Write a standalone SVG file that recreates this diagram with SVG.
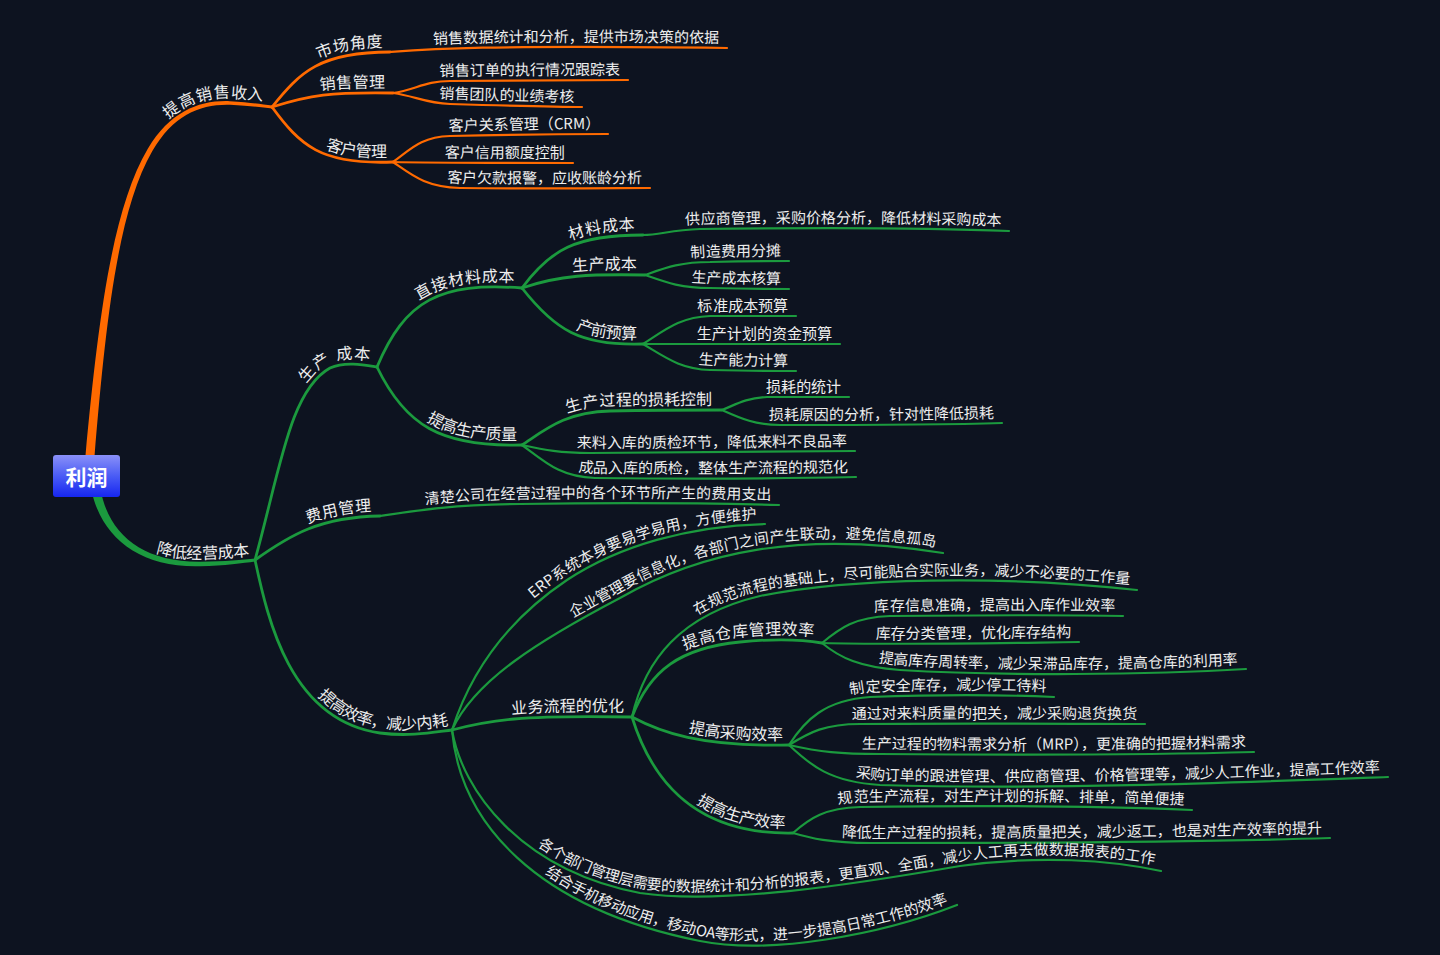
<svg xmlns="http://www.w3.org/2000/svg" xmlns:xlink="http://www.w3.org/1999/xlink" width="1440" height="955" viewBox="0 0 1440 955">
<style>
.o{fill:none;stroke:#ff6a00;stroke-linecap:round}
.g{fill:none;stroke:#1b9a3e;stroke-linecap:round}
.w2{stroke-width:2.8}
.w1{stroke-width:2.2}
text{font-family:"Noto Sans CJK SC","Noto Sans",sans-serif;fill:#eeeeee}
.n{font-size:16px}
.l{font-size:15px}
</style>
<defs>
<linearGradient id="rootg" x1="0" y1="0" x2="0" y2="1">
<stop offset="0" stop-color="#8a90f8"/><stop offset="0.5" stop-color="#4a5cf5"/><stop offset="1" stop-color="#1626f0"/>
</linearGradient>
<path id="pA" d="M 90 456 C 102 320, 115 210, 150 150 C 172 113, 200 102, 230 103 C 250 104, 262 106, 272 107"/>
<path id="pB" d="M 96 490 C 105 535, 140 565, 200 564 C 225 563.5, 243 561.5, 255 560"/>
<path id="o1" d="M 272 107 C 300 72, 320 52, 390 52"/>
<path id="o2" d="M 272 107 C 310 95, 330 92, 393 93"/>
<path id="o3" d="M 272 107 C 300 145, 320 165, 393 162"/>
<path id="o11" d="M 390 52 C 430 49, 480 45, 727 48"/>
<path id="o21" d="M 393 93 C 415 90, 425 81, 450 81 C 530 80, 600 80, 628 80"/>
<path id="o22" d="M 393 93 C 415 96, 425 103, 450 104 C 520 106, 560 107, 582 107"/>
<path id="o31" d="M 393 162 C 410 150, 420 137, 450 136 C 530 134, 580 134, 608 134"/>
<path id="o32" d="M 393 162 C 430 163, 500 163, 573 163"/>
<path id="o33" d="M 393 162 C 412 175, 425 187, 460 188 C 560 189, 620 188, 650 188"/>
<path id="g1" d="M 255 560 C 280 470, 290 390, 330 368 C 345 361, 365 365, 377 367"/>
<path id="g2" d="M 255 560 C 290 535, 320 517, 380 516"/>
<path id="g3" d="M 255 560 C 268 620, 290 720, 380 733 C 410 737, 435 732, 452 730"/>
<path id="g11" d="M 377 367 C 405 300, 440 282, 522 288"/>
<path id="g12" d="M 377 367 C 405 425, 440 447, 522 445"/>
<path id="g111" d="M 522 288 C 550 250, 575 235, 643 235"/>
<path id="g1111" d="M 643 235 C 660 235, 670 230, 700 229 C 850 227, 960 229, 1009 231"/>
<path id="g112" d="M 522 288 C 560 275, 590 274, 645 275"/>
<path id="g1121" d="M 645 275 C 665 268, 680 262, 710 262 C 750 261, 775 261, 789 261"/>
<path id="g1122" d="M 645 275 C 665 282, 680 288, 710 288 C 750 289, 775 289, 789 289"/>
<path id="g113" d="M 522 288 C 555 330, 580 346, 643 344"/>
<path id="g1131" d="M 643 344 C 665 330, 680 317, 710 316 C 760 316, 780 316, 796 316"/>
<path id="g1132" d="M 643 344 C 700 344, 780 344, 840 344"/>
<path id="g1133" d="M 643 344 C 665 357, 680 369, 710 370 C 760 371, 780 371, 796 371"/>
<path id="g121" d="M 522 445 C 545 430, 565 412, 610 411 C 660 410, 700 410, 722 410"/>
<path id="g1211" d="M 722 410 C 735 405, 745 398, 767 397 C 800 397, 830 397, 849 397"/>
<path id="g1212" d="M 722 410 C 740 418, 755 425, 780 425 C 900 425, 970 424, 1002 423"/>
<path id="g122" d="M 522 445 C 545 450, 560 453, 590 453 C 700 453, 800 452, 855 451"/>
<path id="g123" d="M 522 445 C 545 462, 560 477, 595 478 C 700 479, 810 478, 856 477"/>
<path id="g21" d="M 380 516 C 420 510, 450 505, 520 504 C 650 502, 740 504, 779 505"/>
<path id="g31" d="M 452 730 C 468 680, 500 625, 567 580 C 620 545, 690 526, 765 524"/>
<path id="g32" d="M 452 730 C 475 680, 540 640, 620 598 C 700 552, 800 530, 943 553"/>
<path id="g33" d="M 452 730 C 490 720, 520 715, 632 717"/>
<path id="g34" d="M 452 730 C 462 790, 520 870, 640 893 C 720 905, 850 885, 960 866 C 1040 855, 1110 860, 1161 871"/>
<path id="g35" d="M 452 730 C 460 822, 535 908, 700 941 C 770 955, 880 935, 957 905"/>
<path id="g331" d="M 632 717 C 645 660, 680 615, 760 596 C 850 578, 1000 575, 1137 590"/>
<path id="g332" d="M 632 717 C 650 670, 680 648, 740 642 C 780 638, 805 640, 822 643"/>
<path id="g3321" d="M 822 643 C 840 628, 855 617, 890 616 C 1000 615, 1080 615, 1123 616"/>
<path id="g3322" d="M 822 643 C 900 645, 1000 643, 1079 642"/>
<path id="g3323" d="M 822 643 C 840 658, 860 667, 900 670 C 1000 676, 1150 675, 1246 669"/>
<path id="g333" d="M 632 717 C 660 732, 700 747, 789 745"/>
<path id="g3331" d="M 789 745 C 805 720, 825 700, 870 697 C 950 694, 1010 695, 1054 697"/>
<path id="g3332" d="M 789 745 C 810 732, 825 724, 860 724 C 980 723, 1100 724, 1145 724"/>
<path id="g3333" d="M 789 745 C 820 752, 840 754, 880 754 C 1000 755, 1150 755, 1254 752"/>
<path id="g3334" d="M 789 745 C 810 765, 830 782, 880 785 C 1050 790, 1250 782, 1388 777"/>
<path id="g334" d="M 632 717 C 650 775, 690 835, 793 833"/>
<path id="g3341" d="M 793 833 C 810 818, 825 808, 860 807 C 1000 805, 1120 807, 1192 810"/>
<path id="g3342" d="M 793 833 C 810 838, 830 843, 870 843 C 1000 843, 1200 842, 1330 838"/>
</defs>
<rect width="1440" height="955" fill="#0d1320"/>
<g id="connectors">
<path fill="#ff6a00" d="M 85.5 470 L 85.5 455.6 C 98.2 319.5, 112.1 209.2, 147.8 148.7 C 170.4 111.3, 199.7 100, 230 101.2 C 250 102.3, 262 104.4, 272 105.5 L 272 108.5 C 262 107.6, 250 105.7, 230 104.8 C 200.3 104, 173.6 114.7, 152.2 151.3 C 117.9 210.8, 105.8 320.5, 94.5 456.4 L 94.5 470 Z"/>
<path fill="#1b9a3e" d="M 91.6 480 L 91.6 490.9 C 101.6 537, 139.1 567.9, 200 566.3 C 225 565.5, 243 563.2, 255 561.5 L 255 558.5 C 243 559.8, 225 561.5, 200 561.7 C 140.9 562.1, 108.4 533, 100.4 489.1 L 100.4 480 Z"/>
<use href="#o1" class="o w2"/><use href="#o2" class="o w2"/><use href="#o3" class="o w2"/>
<use href="#o11" class="o w1"/><use href="#o21" class="o w1"/><use href="#o22" class="o w1"/>
<use href="#o31" class="o w1"/><use href="#o32" class="o w1"/><use href="#o33" class="o w1"/>
<use href="#g1" class="g w2"/><use href="#g2" class="g w2"/><use href="#g3" class="g w2"/>
<use href="#g11" class="g w2"/><use href="#g12" class="g w2"/>
<use href="#g111" class="g w2"/><use href="#g112" class="g w2"/><use href="#g113" class="g w2"/>
<use href="#g1111" class="g w1"/><use href="#g1121" class="g w1"/><use href="#g1122" class="g w1"/>
<use href="#g1131" class="g w1"/><use href="#g1132" class="g w1"/><use href="#g1133" class="g w1"/>
<use href="#g121" class="g w2"/><use href="#g1211" class="g w1"/><use href="#g1212" class="g w1"/>
<use href="#g122" class="g w1"/><use href="#g123" class="g w1"/><use href="#g21" class="g w1"/>
<use href="#g31" class="g w1"/><use href="#g32" class="g w1"/><use href="#g33" class="g w2"/>
<use href="#g34" class="g w1"/><use href="#g35" class="g w1"/>
<use href="#g331" class="g w1"/><use href="#g332" class="g w2"/>
<use href="#g3321" class="g w1"/><use href="#g3322" class="g w1"/><use href="#g3323" class="g w1"/>
<use href="#g333" class="g w2"/>
<use href="#g3331" class="g w1"/><use href="#g3332" class="g w1"/><use href="#g3333" class="g w1"/><use href="#g3334" class="g w1"/>
<use href="#g334" class="g w2"/><use href="#g3341" class="g w1"/><use href="#g3342" class="g w1"/>
</g>
<g id="root">
<rect x="53" y="455" width="67" height="42" rx="3" fill="url(#rootg)"/>
<text x="86.5" y="485" text-anchor="middle" style="font-size:21px;font-weight:bold;fill:#ffffff">利润</text>
</g>
<g id="n-sales"><text class="n" text-anchor="end" dx="-10" dy="-5"><textPath href="#pA" startOffset="100%">提高销售收入</textPath></text></g>
<g id="n-market"><text class="n" text-anchor="end" dx="-7" dy="-5"><textPath href="#o1" startOffset="100%">市场角度</textPath></text></g>
<g id="n-market-1"><text class="l" text-anchor="end" dx="-8" dy="-5"><textPath href="#o11" startOffset="100%">销售数据统计和分析，提供市场决策的依据</textPath></text></g>
<g id="n-salesmgmt"><text class="n" text-anchor="end" dx="-8" dy="-5"><textPath href="#o2" startOffset="100%">销售管理</textPath></text></g>
<g id="n-salesmgmt-1"><text class="l" text-anchor="end" dx="-8" dy="-5"><textPath href="#o21" startOffset="100%">销售订单的执行情况跟踪表</textPath></text></g>
<g id="n-salesmgmt-2"><text class="l" text-anchor="end" dx="-8" dy="-5"><textPath href="#o22" startOffset="100%">销售团队的业绩考核</textPath></text></g>
<g id="n-customer"><text class="n" text-anchor="end" dx="-6" dy="-5"><textPath href="#o3" startOffset="100%">客户管理</textPath></text></g>
<g id="n-customer-1"><text class="l" text-anchor="end" dx="-8" dy="-5"><textPath href="#o31" startOffset="100%">客户关系管理（CRM）</textPath></text></g>
<g id="n-customer-2"><text class="l" text-anchor="end" dx="-8" dy="-5"><textPath href="#o32" startOffset="100%">客户信用额度控制</textPath></text></g>
<g id="n-customer-3"><text class="l" text-anchor="end" dx="-8" dy="-5"><textPath href="#o33" startOffset="100%">客户欠款报警，应收账龄分析</textPath></text></g>
<g id="n-cost"><text class="n" text-anchor="end" dx="-5" dy="-5"><textPath href="#pB" startOffset="100%">降低经营成本</textPath></text></g>
<g id="n-prod"><text class="n" text-anchor="end" dx="-8" dy="-5"><textPath href="#g1" startOffset="100%">生产 成本</textPath></text></g>
<g id="n-direct"><text class="n" text-anchor="end" dx="-8" dy="-5"><textPath href="#g11" startOffset="100%">直接材料成本</textPath></text></g>
<g id="n-material"><text class="n" text-anchor="end" dx="-8" dy="-5"><textPath href="#g111" startOffset="100%">材料成本</textPath></text></g>
<g id="n-material-1"><text class="l" text-anchor="end" dx="-8" dy="-5"><textPath href="#g1111" startOffset="100%">供应商管理，采购价格分析，降低材料采购成本</textPath></text></g>
<g id="n-prodcost"><text class="n" text-anchor="end" dx="-8" dy="-5"><textPath href="#g112" startOffset="100%">生产成本</textPath></text></g>
<g id="n-prodcost-1"><text class="l" text-anchor="end" dx="-8" dy="-5"><textPath href="#g1121" startOffset="100%">制造费用分摊</textPath></text></g>
<g id="n-prodcost-2"><text class="l" text-anchor="end" dx="-8" dy="-5"><textPath href="#g1122" startOffset="100%">生产成本核算</textPath></text></g>
<g id="n-budget"><text class="n" text-anchor="end" dx="-6" dy="-5"><textPath href="#g113" startOffset="100%">产前预算</textPath></text></g>
<g id="n-budget-1"><text class="l" text-anchor="end" dx="-8" dy="-5"><textPath href="#g1131" startOffset="100%">标准成本预算</textPath></text></g>
<g id="n-budget-2"><text class="l" text-anchor="end" dx="-8" dy="-5"><textPath href="#g1132" startOffset="100%">生产计划的资金预算</textPath></text></g>
<g id="n-budget-3"><text class="l" text-anchor="end" dx="-8" dy="-5"><textPath href="#g1133" startOffset="100%">生产能力计算</textPath></text></g>
<g id="n-quality"><text class="n" text-anchor="end" dx="-5" dy="-5"><textPath href="#g12" startOffset="100%">提高生产质量</textPath></text></g>
<g id="n-loss"><text class="n" text-anchor="end" dx="-10" dy="-5"><textPath href="#g121" startOffset="100%">生产过程的损耗控制</textPath></text></g>
<g id="n-loss-1"><text class="l" text-anchor="end" dx="-8" dy="-5"><textPath href="#g1211" startOffset="100%">损耗的统计</textPath></text></g>
<g id="n-loss-2"><text class="l" text-anchor="end" dx="-8" dy="-5"><textPath href="#g1212" startOffset="100%">损耗原因的分析，针对性降低损耗</textPath></text></g>
<g id="n-quality-2"><text class="l" text-anchor="end" dx="-8" dy="-5"><textPath href="#g122" startOffset="100%">来料入库的质检环节，降低来料不良品率</textPath></text></g>
<g id="n-quality-3"><text class="l" text-anchor="end" dx="-8" dy="-5"><textPath href="#g123" startOffset="100%">成品入库的质检，整体生产流程的规范化</textPath></text></g>
<g id="n-expense"><text class="n" text-anchor="end" dx="-8" dy="-5"><textPath href="#g2" startOffset="100%">费用管理</textPath></text></g>
<g id="n-expense-1"><text class="l" text-anchor="end" dx="-8" dy="-5"><textPath href="#g21" startOffset="100%">清楚公司在经营过程中的各个环节所产生的费用支出</textPath></text></g>
<g id="n-eff"><text class="n" text-anchor="end" dx="-3" dy="-5"><textPath href="#g3" startOffset="100%">提高效率，减少内耗</textPath></text></g>
<g id="n-erp"><text class="l" text-anchor="end" dx="-8" dy="-5"><textPath href="#g31" startOffset="100%">ERP系统本身要易学易用，方便维护</textPath></text></g>
<g id="n-info"><text class="l" text-anchor="end" dx="-8" dy="-5"><textPath href="#g32" startOffset="100%">企业管理要信息化，各部门之间产生联动，避免信息孤岛</textPath></text></g>
<g id="n-flow"><text class="n" text-anchor="end" dx="-8" dy="-5"><textPath href="#g33" startOffset="100%">业务流程的优化</textPath></text></g>
<g id="n-flow-1"><text class="l" text-anchor="end" dx="-8" dy="-5"><textPath href="#g331" startOffset="100%">在规范流程的基础上，尽可能贴合实际业务，减少不必要的工作量</textPath></text></g>
<g id="n-wh"><text class="n" text-anchor="end" dx="-9" dy="-5"><textPath href="#g332" startOffset="100%">提高仓库管理效率</textPath></text></g>
<g id="n-wh-1"><text class="l" text-anchor="end" dx="-8" dy="-5"><textPath href="#g3321" startOffset="100%">库存信息准确，提高出入库作业效率</textPath></text></g>
<g id="n-wh-2"><text class="l" text-anchor="end" dx="-8" dy="-5"><textPath href="#g3322" startOffset="100%">库存分类管理，优化库存结构</textPath></text></g>
<g id="n-wh-3"><text class="l" text-anchor="end" dx="-8" dy="-5"><textPath href="#g3323" startOffset="100%">提高库存周转率，减少呆滞品库存，提高仓库的利用率</textPath></text></g>
<g id="n-pur"><text class="n" text-anchor="end" dx="-6" dy="-5"><textPath href="#g333" startOffset="100%">提高采购效率</textPath></text></g>
<g id="n-pur-1"><text class="l" text-anchor="end" dx="-8" dy="-5"><textPath href="#g3331" startOffset="100%">制定安全库存，减少停工待料</textPath></text></g>
<g id="n-pur-2"><text class="l" text-anchor="end" dx="-8" dy="-5"><textPath href="#g3332" startOffset="100%">通过对来料质量的把关，减少采购退货换货</textPath></text></g>
<g id="n-pur-3"><text class="l" text-anchor="end" dx="-8" dy="-5"><textPath href="#g3333" startOffset="100%">生产过程的物料需求分析（MRP），更准确的把握材料需求</textPath></text></g>
<g id="n-pur-4"><text class="l" text-anchor="end" dx="-8" dy="-5"><textPath href="#g3334" startOffset="100%">采购订单的跟进管理、供应商管理、价格管理等，减少人工作业，提高工作效率</textPath></text></g>
<g id="n-pe"><text class="n" text-anchor="end" dx="-8" dy="-5"><textPath href="#g334" startOffset="100%">提高生产效率</textPath></text></g>
<g id="n-pe-1"><text class="l" text-anchor="end" dx="-8" dy="-5"><textPath href="#g3341" startOffset="100%">规范生产流程，对生产计划的拆解、排单，简单便捷</textPath></text></g>
<g id="n-pe-2"><text class="l" text-anchor="end" dx="-8" dy="-5"><textPath href="#g3342" startOffset="100%">降低生产过程的损耗，提高质量把关，减少返工，也是对生产效率的提升</textPath></text></g>
<g id="n-report"><text class="l" text-anchor="end" dx="-8" dy="-5"><textPath href="#g34" startOffset="100%">各个部门管理层需要的数据统计和分析的报表，更直观、全面，减少人工再去做数据报表的工作</textPath></text></g>
<g id="n-mobile"><text class="l" text-anchor="end" dx="-8" dy="-5"><textPath href="#g35" startOffset="100%">结合手机移动应用，移动OA等形式，进一步提高日常工作的效率</textPath></text></g>
</svg>
